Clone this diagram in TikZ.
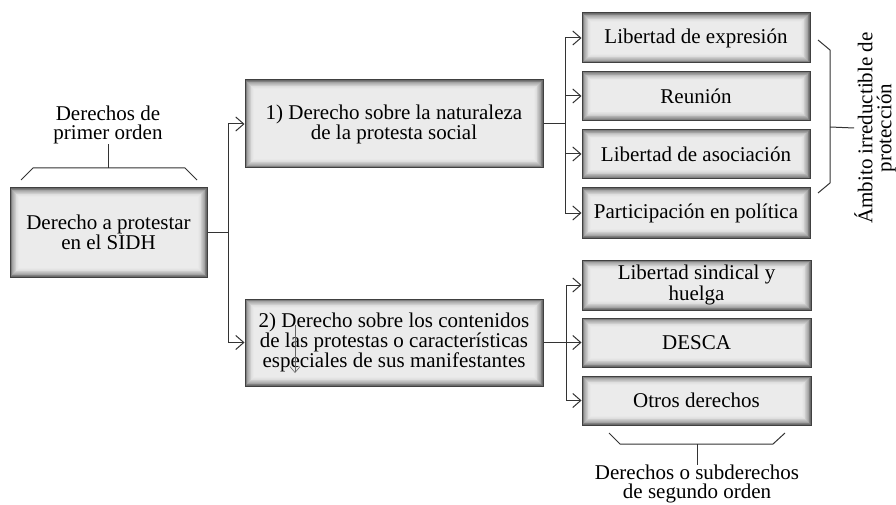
\documentclass[tikz,border=0pt]{standalone}
\usepackage{fontspec}
\setmainfont{Liberation Serif}
\usetikzlibrary{arrows.meta,positioning}

\tikzset{
	caja/.style={draw=black!75, line width=1pt, align=center, inner sep=0pt,
		font=\rmfamily\fontsize{21}{19}\selectfont,
		path picture={
			\foreach \i [evaluate=\i as \c using int(8+50*(1-\i/12)^2)] in {0,...,12}
				\fill[black!\c] ([shift={(\i*0.8pt,\i*0.8pt)}]path picture bounding box.south west)
					rectangle ([shift={(-\i*0.8pt,-\i*0.8pt)}]path picture bounding box.north east);
		}},
	flecha/.style={-{Straight Barb[length=8pt,width=14pt]}, line width=1pt, black!80},
	linea/.style={line width=1pt, black!80},
	etiqueta/.style={align=center, inner sep=0pt, font=\rmfamily\fontsize{21}{19}\selectfont}
}

\begin{document}
\begin{tikzpicture}[x=1pt, y=-1pt]
			\useasboundingbox (0,0) rectangle (896,505);
			\begin{scope}[every node/.style={caja}]
				\node[minimum width=197pt, minimum height=89pt] (raiz) at (108.5,232.5) {Derecho a protestar\\en el SIDH};
				\node[minimum width=298pt, minimum height=88pt] (nat) at (394,124) {1) Derecho sobre la naturaleza\\de la protesta social};
				\node[minimum width=298pt, minimum height=87pt] (cont) at (394,342.5) {2) Derecho sobre los contenidos\\de las protestas o características\\especiales de sus manifestantes};
				\node[minimum width=228pt, minimum height=50pt] (expr) at (696,38) {Libertad de expresión};
				\node[minimum width=228pt, minimum height=49pt] (reun) at (696,96) {Reunión};
				\node[minimum width=228pt, minimum height=49pt] (asoc) at (696,154) {Libertad de asociación};
				\node[minimum width=228pt, minimum height=50pt] (poli) at (696,213) {Participación en política};
				\node[minimum width=229pt, minimum height=50pt] (sind) at (696.5,285) {Libertad sindical y\\huelga};
				\node[minimum width=229pt, minimum height=49pt] (desca) at (696.5,342.5) {DESCA};
				\node[minimum width=229pt, minimum height=49pt] (otros) at (696.5,400.5) {Otros derechos};
			\end{scope}
			\begin{scope}[every node/.style={etiqueta}]
				\node (primer) at (108,125) {Derechos de\\primer orden};
				\node[rotate=90] (ambito) at (875,128) {Ámbito irreductible de\\protección};
				\node (segundo) at (697,484) {Derechos o subderechos\\de segundo orden};
			\end{scope}
			% ramas
			\coordinate (t0) at (228,232.5);
			\coordinate (t1) at (565,124);
			\coordinate (t2) at (566,342.5);
			\draw[linea] (raiz.east) -- (t0);
			\draw[flecha] (t0) |- (nat.west);
			\draw[flecha] (t0) |- (cont.west);
			\draw[linea] (nat.east) -- (t1);
			\foreach \n in {expr,reun,asoc,poli}
				\draw[flecha] (t1) |- (\n.west);
			\draw[linea] (cont.east) -- (t2);
			\foreach \n in {sind,desca,otros}
				\draw[flecha] (t2) |- (\n.west);
			% llaves
			\draw[linea] (21,180) -- (33,168) -- (185,168) -- (197,180);
			\draw[linea] (108,168) -- (primer.south);
			\draw[linea] (818,40) -- (830,50) -- (830,183) -- (818,193);
			\draw[linea] (830,127) -- (ambito.north);
			\draw[linea] (609,433) -- (620,444) -- (773,444) -- (785,433);
			\draw[linea] (697,444) -- (segundo.north);
			% trazo suelto
			\coordinate (s0) at (295,325);
			\draw[-{Straight Barb[length=6pt,width=10pt]}, line width=0.6pt, black!60] (s0) -- ++(0,48);
		\end{tikzpicture}
\end{document}
